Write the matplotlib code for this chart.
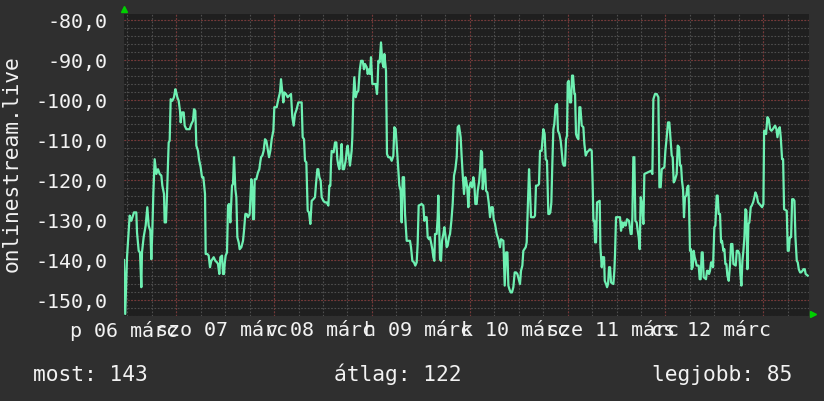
import numpy as np
import matplotlib
matplotlib.use('Agg')
import matplotlib.pyplot as plt

# signal trace, one week, hours since start of graph
hours = [0.0, 0.3, 0.74, 1.39, 1.8, 2.45, 3.02, 3.19, 3.6, 3.92, 4.25, 4.41, 4.82, 5.31, 5.72, 6.05, 6.46, 6.7, 6.95, 7.19,
         7.52, 7.93, 8.34, 8.75, 9.16, 9.4, 9.81, 9.97, 10.3, 10.55, 10.96, 11.2, 11.45, 11.85, 12.26, 12.59, 12.83, 13.08, 13.41, 13.73,
         13.9, 14.23, 14.64, 14.88, 15.29, 16.1, 16.51, 16.92, 17.17, 17.49, 17.74, 18.15, 18.39, 18.8, 19.13, 19.46, 19.87, 20.03, 20.44, 20.77,
         21.09, 21.42, 22.0, 22.4, 22.81, 23.05, 23.38, 23.63, 24.04, 24.28, 24.53, 24.69, 24.93, 25.26, 25.51, 25.75, 26.08, 26.49, 26.73, 26.98,
         27.31, 27.55, 27.8, 28.13, 28.37, 28.78, 29.19, 29.43, 29.76, 30.09, 30.41, 30.82, 31.23, 31.47, 31.64, 31.88, 32.05, 32.45, 32.86, 33.19,
         33.35, 33.6, 33.93, 34.25, 34.58, 34.91, 35.24, 35.57, 35.89, 36.22, 36.63, 36.87, 37.45, 37.85, 38.26, 38.51, 38.83, 39.08, 39.32, 39.73,
         40.14, 40.55, 40.96, 41.28, 41.61, 41.94, 42.35, 42.76, 43.57, 43.82, 44.15, 44.39, 44.72, 45.05, 45.37, 45.7, 46.03, 46.44, 46.84, 47.09,
         47.42, 47.66, 47.91, 48.24, 48.48, 48.89, 49.3, 49.71, 50.12, 50.36, 50.61, 50.77, 50.93, 51.42, 51.75, 52.08, 52.32, 52.57, 52.81, 53.22,
         53.38, 53.63, 53.96, 54.36, 54.61, 54.85, 55.18, 55.42, 55.83, 56.0, 56.24, 56.49, 56.82, 57.14, 57.47, 57.8, 58.13, 58.54, 58.86, 59.11,
         59.52, 59.76, 60.09, 60.33, 60.58, 60.91, 61.72, 62.05, 62.21, 62.38, 62.7, 63.03, 63.36, 63.69, 63.85, 64.01, 64.26, 64.5, 64.83, 65.24,
         65.65, 66.06, 66.3, 66.63, 66.87, 67.2, 67.53, 67.86, 68.1, 68.35, 68.67, 68.92, 69.33, 70.14, 70.39, 70.72, 71.12, 71.45, 71.78, 72.02,
         72.27, 73.0, 73.41, 73.66, 73.98, 74.23, 74.48, 74.8, 75.05, 75.29, 75.62, 75.87, 76.11, 76.28, 76.68, 76.93, 77.09, 77.34, 77.5, 77.75,
         77.99, 78.32, 78.57, 78.89, 79.14, 79.38, 79.71, 79.96, 80.29, 80.61, 80.94, 81.27, 81.6, 81.84, 82.16, 82.57, 82.82, 83.06, 83.39, 83.72,
         83.96, 84.21, 84.45, 84.7, 85.03, 85.35, 85.68, 85.93, 86.17, 86.5, 86.75, 87.07, 87.32, 87.56, 87.81, 87.97, 88.3, 88.54, 88.79, 89.12,
         89.44, 89.77, 90.1, 90.43, 90.67, 91.0, 91.41, 91.81, 92.22, 92.47, 93.04, 93.37, 93.7, 94.03, 94.27, 94.52, 94.84, 95.16, 95.49, 95.82,
         96.15, 96.48, 96.8, 97.12, 97.37, 97.7, 97.94, 98.19, 98.52, 98.76, 99.01, 99.34, 99.57, 99.82, 100.55, 100.8, 101.04, 101.45, 101.78, 102.03,
         102.43, 102.84, 103.17, 103.42, 103.74, 104.07, 104.32, 104.56, 104.81, 105.05, 105.3, 105.54, 105.87, 106.2, 106.44, 106.77, 107.1, 107.34, 107.59, 107.84,
         108.16, 108.41, 108.65, 108.82, 109.06, 109.39, 109.64, 109.88, 110.13, 110.46, 110.62, 110.86, 111.11, 111.44, 111.68, 111.93, 112.26, 112.66, 112.91, 113.24,
         113.56, 114.3, 114.71, 114.95, 115.12, 115.36, 115.53, 115.77, 116.02, 116.67, 116.84, 117.17, 117.41, 117.74, 117.9, 118.23, 118.47, 118.72, 118.96, 119.2,
         119.45, 120.02, 120.26, 120.43, 120.67, 121.65, 121.9, 122.14, 122.39, 122.72, 123.04, 123.37, 123.86, 124.27, 124.51, 124.68, 124.92, 125.17, 125.41, 125.74,
         125.99, 126.23, 126.48, 126.72, 127.05, 127.38, 127.62, 129.26, 129.59, 129.83, 130.24, 130.65, 131.06, 131.31, 131.63, 131.88, 132.53, 132.78, 133.1, 133.42,
         133.75, 134.0, 134.33, 134.57, 134.82, 135.06, 135.55, 135.8, 136.13, 136.37, 136.62, 136.85, 137.11, 137.34, 137.58, 137.92, 138.16, 138.41, 138.57, 138.81,
         139.06, 139.22, 139.47, 139.71, 139.96, 140.2, 140.45, 140.94, 141.19, 141.43, 141.68, 141.93, 142.17, 142.74, 142.99, 143.23, 143.48, 143.72, 143.97, 144.21,
         144.46, 144.79, 145.03, 145.36, 145.61, 145.85, 146.18, 146.43, 146.67, 147.0, 147.25, 147.49, 147.74, 147.98, 148.31, 148.64, 148.88, 149.21, 149.46, 150.03,
         150.28, 150.6, 150.93, 151.17, 151.42, 151.67, 151.91, 152.16, 152.4, 152.65, 152.89, 153.14, 153.38, 153.71, 153.96, 154.29, 154.61, 154.86, 155.19, 155.51,
         155.84, 156.5, 156.82, 156.99, 157.23, 157.48, 157.8, 158.13, 158.46, 158.79, 159.11, 159.68, 160.01, 160.26, 160.58, 160.83, 161.07, 161.4, 161.65, 161.89,
         162.54, 162.79, 163.04, 163.28, 163.61, 163.86, 164.18, 164.43, 164.67, 165.0, 165.25, 165.49, 165.82, 166.06, 166.39, 166.63, 166.96, 167.18, 167.68]

signal = [-140.0, -153.5, -139.3, -128.9, -130.2, -128.1, -128.1, -133.1, -137.7, -138.1, -146.8, -138.1, -134.3, -131.4, -126.8, -131.4, -132.7, -139.8, -132.7, -123.5,
          -114.8, -118.5, -117.3, -118.5, -118.9, -121.4, -123.5, -130.6, -130.6, -123.5, -110.6, -110.2, -99.8, -100.2, -99.3, -97.3, -98.1, -99.3, -100.2, -102.7,
          -105.6, -103.1, -103.1, -106.4, -107.3, -107.3, -106.0, -105.2, -102.3, -102.7, -111.4, -112.7, -114.8, -116.8, -119.3, -119.3, -123.5, -138.5, -138.5, -138.9,
          -141.8, -140.2, -139.3, -140.2, -140.6, -141.0, -143.5, -139.3, -138.9, -143.5, -143.5, -141.0, -138.9, -138.1, -126.4, -126.0, -130.6, -121.4, -121.0, -114.3,
          -122.3, -124.3, -134.3, -135.6, -137.3, -136.8, -135.2, -132.7, -128.5, -128.5, -129.3, -128.5, -119.8, -121.8, -129.8, -129.8, -119.8, -119.8, -118.1, -117.3,
          -116.0, -114.3, -113.9, -112.7, -109.8, -110.2, -112.3, -114.3, -112.7, -109.8, -107.7, -101.8, -101.8, -99.8, -98.1, -94.8, -98.1, -100.6, -98.1, -98.5,
          -99.3, -98.9, -98.5, -104.3, -106.4, -103.5, -102.3, -100.6, -100.6, -109.3, -109.8, -115.2, -115.6, -127.7, -128.1, -131.0, -125.2, -124.8, -124.3, -121.0,
          -117.3, -117.3, -119.3, -120.2, -124.3, -125.2, -125.6, -125.6, -126.4, -121.4, -121.4, -115.6, -112.7, -113.1, -110.6, -110.6, -114.8, -116.4, -117.3, -113.5,
          -111.0, -117.3, -117.3, -115.2, -112.7, -111.4, -114.3, -116.4, -112.7, -109.3, -99.3, -94.3, -99.3, -98.1, -97.7, -92.7, -90.2, -90.2, -92.3, -91.0,
          -91.8, -93.5, -92.3, -93.5, -89.3, -96.0, -96.0, -98.5, -95.6, -90.2, -90.6, -85.6, -90.6, -91.8, -88.5, -90.2, -92.7, -113.5, -114.3, -114.3,
          -115.2, -113.9, -106.8, -107.3, -111.0, -116.4, -121.4, -122.7, -130.6, -119.3, -119.3, -128.5, -135.2, -135.2, -136.8, -140.2, -140.6, -141.4, -140.6, -136.0,
          -126.4, -126.0, -126.4, -130.2, -129.3, -129.3, -134.3, -134.8, -134.3, -135.6, -137.3, -139.3, -140.2, -133.5, -133.5, -129.3, -123.9, -133.5, -139.8, -140.2,
          -135.2, -133.5, -131.8, -134.3, -136.8, -136.4, -134.3, -133.5, -130.2, -126.0, -118.9, -117.3, -114.3, -106.8, -106.4, -109.3, -114.3, -118.5, -123.5, -119.3,
          -120.2, -122.3, -126.8, -121.8, -120.6, -121.8, -119.3, -121.0, -126.0, -126.0, -122.7, -120.6, -117.7, -112.7, -113.1, -122.3, -118.5, -117.3, -122.7, -123.1,
          -125.6, -129.3, -126.8, -126.8, -129.8, -131.0, -133.5, -134.8, -136.8, -134.8, -135.2, -146.4, -138.1, -138.1, -146.4, -147.3, -148.1, -148.1, -146.8, -143.1,
          -143.1, -143.5, -144.8, -146.0, -142.7, -141.4, -137.7, -137.3, -136.8, -135.6, -127.7, -117.3, -122.7, -129.3, -129.3, -128.9, -121.4, -121.4, -121.0, -112.7,
          -112.7, -107.3, -108.5, -114.8, -115.2, -128.5, -128.5, -128.1, -125.6, -116.0, -107.3, -106.0, -101.4, -101.0, -107.7, -108.5, -110.2, -112.7, -115.6, -116.4,
          -116.4, -109.8, -108.9, -95.6, -95.2, -100.6, -100.6, -93.9, -93.9, -98.5, -98.5, -108.5, -109.3, -109.8, -101.8, -101.8, -106.4, -106.8, -111.0, -113.9,
          -113.1, -112.3, -112.7, -121.4, -130.2, -130.2, -135.6, -135.6, -125.6, -125.2, -136.8, -141.8, -139.3, -139.3, -145.2, -146.0, -146.8, -146.0, -141.8, -141.8,
          -145.6, -146.0, -142.7, -138.5, -129.3, -129.3, -132.7, -130.6, -131.8, -130.6, -131.4, -129.8, -130.2, -133.5, -133.5, -129.3, -114.3, -114.3, -130.2, -130.6,
          -132.7, -134.3, -137.3, -124.3, -126.0, -131.0, -118.5, -117.7, -118.5, -99.8, -98.5, -98.5, -99.3, -121.8, -121.8, -117.3, -116.8, -112.7, -109.3, -105.6,
          -105.6, -109.3, -113.9, -114.3, -120.6, -120.2, -118.5, -111.4, -111.8, -116.4, -116.4, -120.2, -122.3, -129.3, -124.3, -123.9, -121.8, -121.4, -126.0, -137.7,
          -137.3, -142.3, -141.8, -137.7, -139.3, -140.2, -141.4, -141.4, -144.8, -144.8, -138.1, -138.1, -144.3, -144.8, -142.7, -142.7, -143.5, -142.7, -140.6, -140.6,
          -141.8, -131.8, -131.4, -123.9, -123.9, -128.5, -128.5, -135.6, -135.2, -137.7, -137.3, -141.0, -141.0, -143.9, -145.2, -141.0, -136.0, -136.0, -141.0, -141.4,
          -137.7, -137.7, -138.5, -143.5, -146.4, -140.2, -137.7, -134.3, -127.3, -127.7, -142.3, -131.0, -130.6, -126.8, -126.4, -125.6, -124.3, -123.1, -123.9, -125.6,
          -126.0, -126.8, -126.0, -107.7, -107.7, -108.5, -104.3, -104.8, -107.3, -107.7, -107.3, -106.4, -107.3, -109.3, -107.3, -106.8, -109.3, -114.8, -114.8, -127.3,
          -127.7, -137.7, -137.7, -134.3, -134.3, -124.8, -124.8, -125.2, -134.3, -140.2, -140.6, -142.3, -143.1, -143.1, -142.7, -142.3, -142.3, -143.5, -143.9]

day_hours = [0, 24, 48, 72, 96, 120, 144]
day_labels = ['p 06 márc', 'szo 07 márc', 'v 08 márc', 'h 09 márc', 'k 10 márc', 'sze 11 márc', 'cs 12 márc']
y_ticks = [-80, -90, -100, -110, -120, -130, -140, -150]
y_labels = ['-80,0', '-90,0', '-100,0', '-110,0', '-120,0', '-130,0', '-140,0', '-150,0']
y_title = 'onlinestream.live'
stats = ['most: 143', 'átlag: 122', 'legjobb: 85']

mono = 'DejaVu Sans Mono'
txt = '#f2f2f2'

fig = plt.figure(figsize=(8.24, 4.02), dpi=100)
fig.patch.set_facecolor('#2f2f2f')
ax = fig.add_axes([124 / 824, 85 / 402, 685 / 824, 302 / 402])
ax.set_facecolor('#1f1f1f')
ax.set_xlim(0, 168)
ax.set_ylim(-154, -78.5)

# rrdtool style grid: grey every 6h / 2 units, red every day / 10 units
dots = (0, (1.5, 1.5))
for h in np.arange(0.8, 168, 6):
    ax.axvline(h, color='#4e4e4e', lw=0.8, ls=dots, zorder=1)
for h in np.arange(12.8, 168, 24):
    ax.axvline(h, color='#7a3636', lw=0.8, ls=dots, zorder=1)
for v in np.arange(-154, -78, 2):
    ax.axhline(v, color='#4e4e4e', lw=0.8, ls=dots, zorder=1)
for v in y_ticks:
    ax.axhline(v, color='#7a3636', lw=0.8, ls=dots, zorder=1)

ax.plot(hours, signal, color='#6ef0b2', lw=1.6, zorder=3)

ax.set_xticks(day_hours, day_labels)
ax.set_yticks(y_ticks, y_labels)
ax.tick_params(axis='both', length=0, colors=txt, labelsize=14.4)
ax.tick_params(axis='x', pad=3)
ax.tick_params(axis='y', pad=12)
for lab in ax.get_xticklabels() + ax.get_yticklabels():
    lab.set_family(mono)
for s in ax.spines.values():
    s.set_visible(False)

# little green arrows at the axis ends
ax.plot([0], [1.016], marker='^', ms=4.5, color='#00d000', transform=ax.transAxes, clip_on=False)
ax.plot([1.006], [0.005], marker='>', ms=4.5, color='#00d000', transform=ax.transAxes, clip_on=False)

fig.text(12 / 824, 1 - 164 / 402, y_title, rotation=90, ha='center', va='center',
         color=txt, fontsize=15.3, family=mono)
for x, s in zip([33, 334, 652], stats):
    fig.text(x / 824, 1 - 381 / 402, s, ha='left', va='baseline', color=txt, fontsize=15.3, family=mono)

fig.savefig('out.png', dpi=100, facecolor=fig.get_facecolor())
